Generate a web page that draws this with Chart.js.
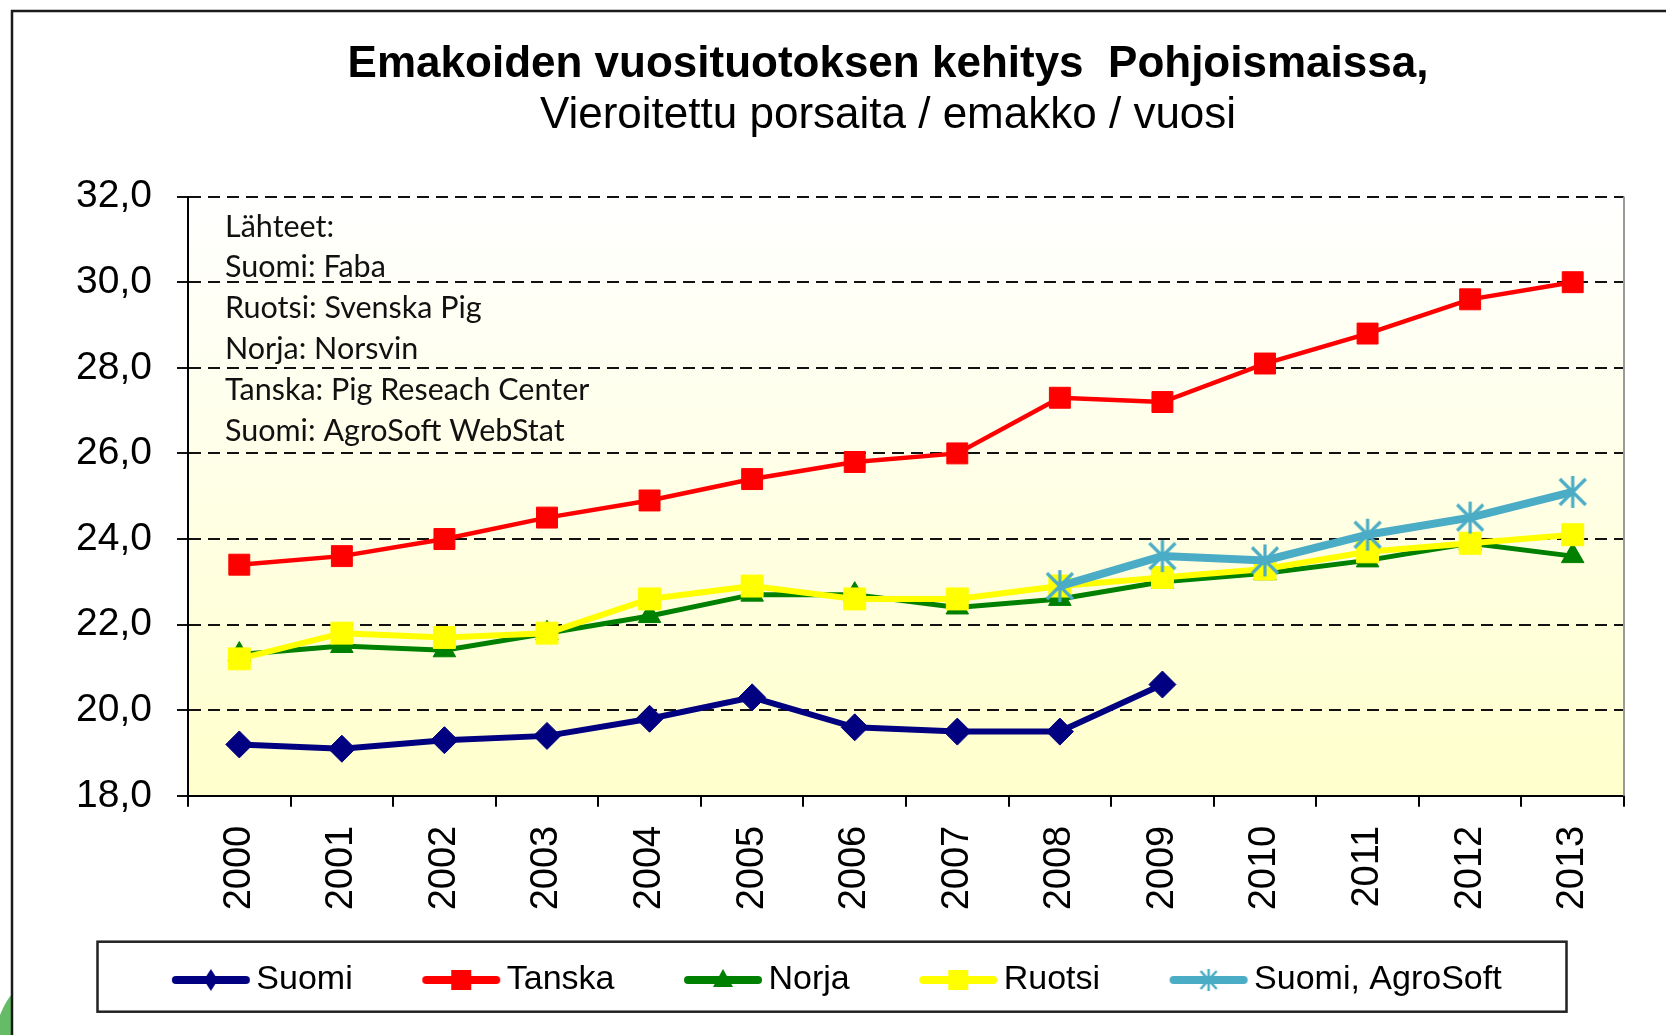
<!DOCTYPE html>
<html>
<head>
<meta charset="utf-8">
<script src="https://cdn.jsdelivr.net/npm/chart.js@4.4.1/dist/chart.umd.min.js"></script>
<style>
  html, body { margin: 0; padding: 0; background: #ffffff; }
  #wrap { width: 1666px; height: 1035px; position: relative; }
</style>
</head>
<body>
<div id="wrap"><canvas id="c" width="1666" height="1035"></canvas></div>
<script>
// ---- data ----
const years = ['2000','2001','2002','2003','2004','2005','2006','2007','2008','2009','2010','2011','2012','2013'];
const suomi    = [19.2, 19.1, 19.3, 19.4, 19.8, 20.3, 19.6, 19.5, 19.5, 20.6, null, null, null, null];
const tanska   = [23.4, 23.6, 24.0, 24.5, 24.9, 25.4, 25.8, 26.0, 27.3, 27.2, 28.1, 28.8, 29.6, 30.0];
const norja    = [21.3, 21.5, 21.4, 21.8, 22.2, 22.7, 22.7, 22.4, 22.6, 23.0, 23.2, 23.5, 23.9, 23.6];
const ruotsi   = [21.2, 21.8, 21.7, 21.8, 22.6, 22.9, 22.6, 22.6, 22.9, 23.1, 23.3, 23.7, 23.9, 24.1];
const agrosoft = [null, null, null, null, null, null, null, null, 22.9, 23.6, 23.5, 24.1, 24.5, 25.1];
const seriesNames = ['Suomi', 'Tanska', 'Norja', 'Ruotsi', 'Suomi, AgroSoft'];
const yMin = 18, yMax = 32, yStep = 2;
const titleText = 'Emakoiden vuosituotoksen kehitys  Pohjoismaissa,';
const subtitleText = 'Vieroitettu porsaita / emakko / vuosi';
const sourceLines = ['Lähteet:', 'Suomi: Faba', 'Ruotsi: Svenska Pig', 'Norja: Norsvin', 'Tanska: Pig Reseach Center', 'Suomi: AgroSoft WebStat'];

// ---- styles ----
const colors = ['#000080', '#FF0000', '#008000', '#FFFF00', '#4BACC6'];

function legendSymbol(kind, color) {
  const cv = document.createElement('canvas');
  cv.width = 80; cv.height = 26;
  const g = cv.getContext('2d');
  g.strokeStyle = color; g.fillStyle = color;
  g.lineWidth = 8; g.lineCap = 'round';
  g.beginPath(); g.moveTo(5, 13); g.lineTo(75, 13); g.stroke();
  const cx = 40, cy = 13;
  g.beginPath();
  if (kind === 'diamond') {
    g.moveTo(cx, cy - 11); g.lineTo(cx + 7, cy); g.lineTo(cx, cy + 11); g.lineTo(cx - 7, cy); g.closePath(); g.fill();
  } else if (kind === 'square') {
    g.rect(cx - 10, cy - 10, 20, 20); g.fill();
  } else if (kind === 'triangle') {
    g.moveTo(cx, cy - 11); g.lineTo(cx + 10, cy + 7); g.lineTo(cx - 10, cy + 7); g.closePath(); g.fill();
  } else if (kind === 'star') {
    g.lineWidth = 2.5; g.lineCap = 'butt';
    g.moveTo(cx - 8, cy - 9); g.lineTo(cx + 8, cy + 9);
    g.moveTo(cx + 8, cy - 9); g.lineTo(cx - 8, cy + 9);
    g.moveTo(cx, cy - 11); g.lineTo(cx, cy + 11);
    g.stroke();
  }
  return cv;
}
const legendImgs = [
  legendSymbol('diamond', colors[0]),
  legendSymbol('square', colors[1]),
  legendSymbol('triangle', colors[2]),
  legendSymbol('square', colors[3]),
  legendSymbol('star', colors[4])
];

// asterisk marker (X plus vertical bar) like the spreadsheet marker
function asteriskMarker(color) {
  const cv = document.createElement('canvas');
  cv.width = 32; cv.height = 34;
  const g = cv.getContext('2d');
  g.strokeStyle = color; g.lineWidth = 3.2; g.lineCap = 'butt';
  g.beginPath();
  g.moveTo(3, 4); g.lineTo(29, 30);
  g.moveTo(29, 4); g.lineTo(3, 30);
  g.moveTo(16, 1); g.lineTo(16, 33);
  g.stroke();
  return cv;
}
const agroMarker = asteriskMarker(colors[4]);

const decorPlugin = {
  id: 'decor',
  beforeDraw(chart) {
    const ctx = chart.ctx;
    const a = chart.chartArea;
    ctx.save();
    ctx.fillStyle = '#ffffff';
    ctx.fillRect(0, 0, chart.width, chart.height);
    // small green slide decoration bottom-left
    ctx.fillStyle = '#66BB66';
    ctx.beginPath();
    ctx.moveTo(0, 1035); ctx.lineTo(0, 1015); ctx.quadraticCurveTo(6, 1000, 13, 993); ctx.lineTo(13, 1035); ctx.closePath();
    ctx.fill();
    // outer chart frame
    ctx.strokeStyle = '#1a1a1a';
    ctx.lineWidth = 2.5;
    ctx.beginPath();
    ctx.moveTo(12, 1035); ctx.lineTo(12, 11); ctx.lineTo(1666, 11);
    ctx.stroke();
    // plot background gradient
    const grad = ctx.createLinearGradient(0, a.top, 0, a.bottom);
    grad.addColorStop(0, '#FFFFFF');
    grad.addColorStop(1, '#FFFFCC');
    ctx.fillStyle = grad;
    ctx.fillRect(a.left, a.top, a.right - a.left, a.bottom - a.top);
    ctx.restore();
  },
  beforeDatasetsDraw(chart) {
    const ctx = chart.ctx;
    const a = chart.chartArea;
    ctx.save();
    ctx.strokeStyle = '#9a9a9a';
    ctx.lineWidth = 2;
    ctx.beginPath();
    ctx.moveTo(a.right, a.top); ctx.lineTo(a.right, a.bottom);
    ctx.stroke();
    // sources text
    ctx.fillStyle = '#111111';
    ctx.font = '30.5px Lato';
    ctx.textBaseline = 'alphabetic';
    ctx.textAlign = 'left';
    sourceLines.forEach((t, i) => ctx.fillText(t, a.left + 37, a.top + 40 + i * 40.8));
    ctx.restore();
  },
  afterDraw(chart) {
    const ctx = chart.ctx;
    ctx.save();
    ctx.fillStyle = '#000000';
    ctx.textAlign = 'center';
    ctx.textBaseline = 'alphabetic';
    ctx.font = 'bold 44px "Liberation Sans"';
    ctx.fillText(titleText, 888, 77);
    ctx.font = '44px "Liberation Sans"';
    ctx.fillText(subtitleText, 888, 128);
    // legend frame
    ctx.strokeStyle = '#222222';
    ctx.lineWidth = 2.5;
    ctx.strokeRect(97.5, 941.7, 1469, 70);
    ctx.restore();
  }
};

function mkSet(i, data, pointStyle, radius, lineWidth, order, pbw) {
  return {
    label: seriesNames[i],
    data: data,
    borderColor: colors[i],
    backgroundColor: colors[i],
    pointBackgroundColor: colors[i],
    pointBorderColor: colors[i],
    pointStyle: pointStyle,
    pointRadius: radius,
    pointHoverRadius: radius,
    pointBorderWidth: pbw,
    borderWidth: lineWidth,
    tension: 0,
    spanGaps: false,
    order: order
  };
}

new Chart(document.getElementById('c'), {
  type: 'line',
  data: {
    labels: years,
    datasets: [
      mkSet(0, suomi, 'rectRot', 13.5, 6, 5, 1),
      mkSet(1, tanska, 'rect', 14.8, 4.5, 4, 1),
      mkSet(2, norja, 'triangle', 13, 5, 3, 1),
      mkSet(3, ruotsi, 'rect', 15.5, 6, 2, 1),
      mkSet(4, agrosoft, agroMarker, 15, 8, 1, 3)
    ]
  },
  options: {
    responsive: false,
    animation: false,
    layout: { padding: { top: 196.6, left: 18, right: 0, bottom: 28 } },
    plugins: {
      title: { display: false },
      tooltip: { enabled: false },
      legend: {
        display: true,
        position: 'bottom',
        title: { display: true, text: '', font: { size: 1 }, padding: { top: -35, bottom: 0 } },
        labels: {
          font: { family: 'Liberation Sans', size: 34 },
          color: '#000000',
          usePointStyle: true,
          pointStyleWidth: 57,
          padding: 80,
          sort: (a, b) => a.datasetIndex - b.datasetIndex,
          generateLabels: (chart) => {
            const items = Chart.defaults.plugins.legend.labels.generateLabels(chart);
            items.forEach(it => { it.pointStyle = legendImgs[it.datasetIndex]; });
            return items;
          }
        }
      }
    },
    scales: {
      x: {
        type: 'category',
        offset: true,
        grid: {
          display: true,
          drawOnChartArea: false,
          drawTicks: true,
          tickLength: 11,
          offset: true,
          color: '#000000',
          lineWidth: 2
        },
        border: { display: true, color: '#000000', width: 2 },
        ticks: {
          font: { family: 'Liberation Sans', size: 38 },
          color: '#000000',
          minRotation: 90,
          maxRotation: 90,
          padding: 19,
          autoSkip: false
        },
        afterFit: (s) => { s.height = 121; }
      },
      y: {
        type: 'linear',
        position: 'left',
        min: yMin,
        max: yMax,
        grid: {
          display: true,
          drawOnChartArea: true,
          drawTicks: true,
          tickLength: 11,
          color: '#111111',
          lineWidth: 2,
          tickBorderDash: [1, 0]
        },
        border: { display: true, color: '#000000', width: 2, dash: [12, 7] },
        ticks: {
          stepSize: yStep,
          font: { family: 'Liberation Sans', size: 39 },
          color: '#000000',
          padding: 25,
          callback: (v) => v.toFixed(1).replace('.', ',')
        },
        afterFit: (s) => { s.width = 170; }
      },
      yR: {
        type: 'linear',
        position: 'right',
        display: true,
        grid: { display: false, drawTicks: false },
        border: { display: false },
        ticks: { display: false },
        afterFit: (s) => { s.width = 42; }
      }
    }
  },
  plugins: [decorPlugin]
});
</script>
</body>
</html>
